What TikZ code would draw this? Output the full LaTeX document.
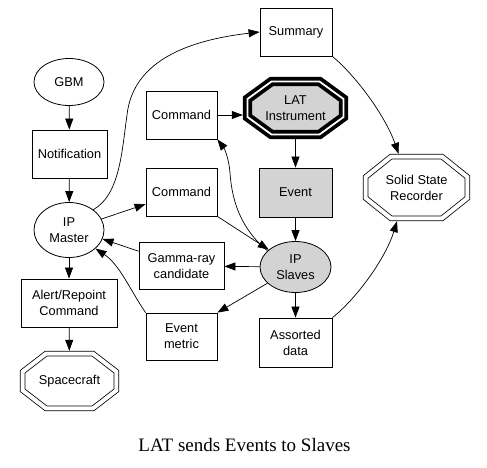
\documentclass[tikz,border=0pt]{standalone}
\usepackage{fontspec}
\setmainfont{Liberation Sans}
\newfontfamily\captionfont{Liberation Serif}
\usetikzlibrary{shapes.geometric,arrows.meta,calc,backgrounds}

\definecolor{nodegray}{HTML}{D3D3D3}
\newcommand{\nodefont}{\fontsize{12.8}{16}\selectfont}

% octagon drawn inside the box of node #2, inset by #3
\newcommand{\octagon}[3][]{%
	\coordinate (#2 nw) at ($(#2.north west)+(#3,#3)$);
	\coordinate (#2 se) at ($(#2.south east)+(-#3,-#3)$);
	\coordinate (#2 ne) at (#2 nw -| #2 se);
	\coordinate (#2 sw) at (#2 nw |- #2 se);
	\draw [#1] ($(#2 nw)!0.25!(#2 ne)$) -- ($(#2 ne)!0.25!(#2 nw)$)
		-- ($(#2 ne)!0.33!(#2 se)$) -- ($(#2 se)!0.33!(#2 ne)$)
		-- ($(#2 se)!0.25!(#2 sw)$) -- ($(#2 sw)!0.25!(#2 se)$)
		-- ($(#2 sw)!0.33!(#2 nw)$) -- ($(#2 nw)!0.33!(#2 sw)$) -- cycle;
}

\begin{document}
\begin{tikzpicture}[x=1pt, y=-1pt,
		box/.style={draw, line width=0.8pt, inner sep=0pt, align=center, font=\nodefont},
		oval/.style={ellipse, draw, line width=0.8pt, inner sep=0pt, align=center, font=\nodefont},
		octo/.style={inner sep=0pt, align=center, font=\nodefont},
		flow/.style={line width=0.7pt, -{Triangle[length=11pt,width=8pt]}}]
		\useasboundingbox (0,0) rectangle (487,467);

		% left column: GBM down to the spacecraft
		\node (gbm) [oval, minimum width=70pt, minimum height=47pt] at (69,82) {GBM};
		\node (notif) [box, minimum width=75pt, minimum height=48pt] at (69.5,154) {Notification};
		\node (master) [oval, minimum width=70pt, minimum height=55pt] at (69,230) {IP\\Master};
		\node (alert) [box, minimum width=96pt, minimum height=48pt] at (69,303) {Alert/Repoint\\Command};
		\node (spacecraft) [octo, minimum width=99pt, minimum height=60pt] at (69.5,381) {Spacecraft};

		% middle column
		\node (cmdlat) [box, minimum width=71pt, minimum height=48pt] at (181.5,115) {Command};
		\node (cmdslv) [box, minimum width=71pt, minimum height=48pt] at (181.5,192) {Command};
		\node (gamma) [box, minimum width=85pt, minimum height=47pt] at (181.5,266) {Gamma-ray\\candidate};
		\node (emetric) [box, minimum width=71pt, minimum height=47pt] at (181.5,336.5) {Event\\metric};

		% right columns
		\node (summary) [box, minimum width=72pt, minimum height=48pt] at (296,32) {Summary};
		\node (lat) [octo, minimum width=105pt, minimum height=62pt] at (295.5,108) {LAT\\Instrument};
		\node (event) [box, fill=nodegray, minimum width=73pt, minimum height=49pt] at (295.5,192.5) {Event};
		\node (slaves) [oval, fill=nodegray, minimum width=71pt, minimum height=51pt] at (295.5,267) {IP\\Slaves};
		\node (assorted) [box, minimum width=73pt, minimum height=49pt] at (295.5,342.5) {Assorted\\data};
		\node (ssr) [octo, minimum width=107pt, minimum height=67pt] at (416.5,187.5) {Solid State\\Recorder};

		\begin{scope}[on background layer]
			\octagon[line width=3.8pt, double=white, double distance=1.8pt, fill=nodegray]{lat}{4.7}
			\octagon[line width=0.8pt, double, double distance=4pt]{ssr}{2.8}
			\octagon[line width=0.8pt, double, double distance=4pt]{spacecraft}{2.8}
		\end{scope}

		% connectors
		\draw [flow] (gbm) -- (notif);
		\draw [flow] (notif) -- (master);
		\draw [flow] (master) -- (alert);
		\draw [flow] (alert) -- (spacecraft);
		\draw [flow] (master) -- (cmdslv);
		\draw [flow] (master.40) .. controls (120,195) and (122,150) .. (127,115)
			.. controls (133,60) and (190,40) .. (summary.west);
		\draw [flow] (cmdlat.east) -- (cmdlat.east -| lat.west);
		\draw [flow] (lat) -- (event);
		\draw [flow] (event) -- (slaves);
		\draw [flow] (slaves.150) .. controls (240,228) and (232,200) .. (230,173)
			.. controls (229,158) and (224,148) .. (cmdlat.south east);
		\draw [flow] (cmdslv.south east) -- (slaves);
		\draw [flow] (slaves) -- (gamma);
		\draw [flow] (gamma.161) -- (master.-15);
		\draw [flow] (emetric.north west) .. controls (130,290) and (120,265) .. (master.-35);
		\draw [flow] (slaves.210) -- (emetric.north east);
		\draw [flow] (slaves) -- (assorted);
		\draw [flow] (summary.south east) .. controls (355,75) and (385,115) .. (ssr.118);
		\draw [flow] (assorted.north east) .. controls (355,300) and (385,260) .. (ssr.-120);

		\node (caption) [anchor=base, font=\captionfont\fontsize{19}{22}\selectfont] at (244.5,451) {LAT sends Events to Slaves};
	\end{tikzpicture}
\end{document}
